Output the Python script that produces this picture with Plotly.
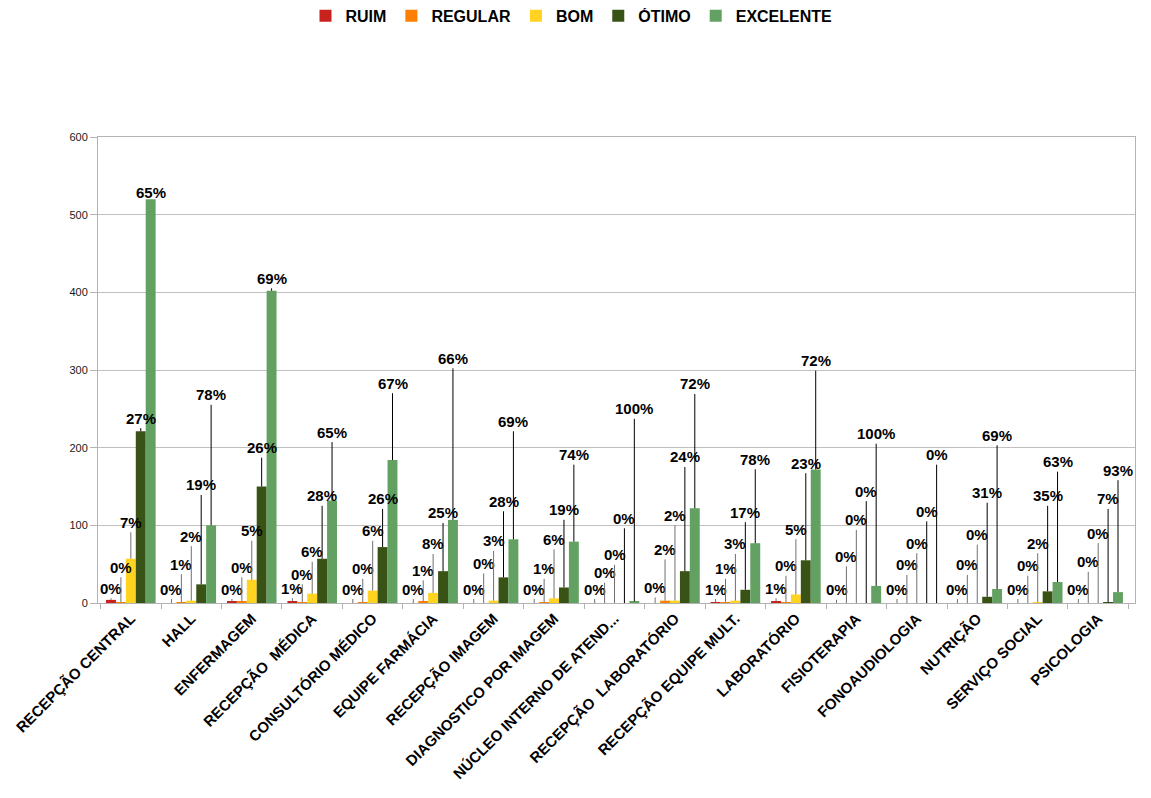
import plotly.graph_objects as go

categories = ["RECEPÇÃO CENTRAL", "HALL", "ENFERMAGEM", "RECEPÇÃO  MÉDICA", "CONSULTÓRIO MÉDICO",
              "EQUIPE FARMÁCIA", "RECEPÇÃO IMAGEM", "DIAGNOSTICO POR IMAGEM", "NÚCLEO INTERNO DE ATEND...",
              "RECEPÇÃO  LABORATÓRIO", "RECEPÇÃO EQUIPE MULT.", "LABORATÓRIO", "FISIOTERAPIA",
              "FONOAUDIOLOGIA", "NUTRIÇÃO", "SERVIÇO SOCIAL", "PSICOLOGIA"]

series_names = ["RUIM", "REGULAR", "BOM", "ÓTIMO", "EXCELENTE"]

ruim      = [4, 0, 2, 2, 0, 0, 0, 0, 0, 0, 1, 2, 0, 0, 0, 0, 0]
regular   = [1, 1, 2, 1, 1, 2, 0, 1, 0, 3, 1, 1, 0, 0, 0, 0, 0]
bom       = [57, 3, 30, 12, 16, 13, 3, 6, 0, 3, 3, 11, 0, 0, 0, 1, 0]
otimo     = [221, 24, 150, 57, 72, 41, 33, 20, 0, 41, 17, 55, 0, 0, 8, 15, 1]
excelente = [520, 100, 402, 132, 184, 107, 82, 79, 2, 122, 77, 172, 22, 0, 18, 27, 14]

ruim_pct      = ["0%", "0%", "0%", "1%", "0%", "0%", "0%", "0%", "0%", "0%", "1%", "1%", "0%", "0%", "0%", "0%", "0%"]
regular_pct   = ["0%", "1%", "0%", "0%", "0%", "1%", "0%", "1%", "0%", "2%", "1%", "0%", "0%", "0%", "0%", "0%", "0%"]
bom_pct       = ["7%", "2%", "5%", "6%", "6%", "8%", "3%", "6%", "0%", "2%", "3%", "5%", "0%", "0%", "0%", "2%", "0%"]
otimo_pct     = ["27%", "19%", "26%", "28%", "26%", "25%", "28%", "19%", "0%", "24%", "17%", "23%", "0%", "0%", "31%", "35%", "7%"]
excelente_pct = ["65%", "78%", "69%", "65%", "67%", "66%", "69%", "74%", "100%", "72%", "78%", "72%", "100%", "0%", "69%", "63%", "93%"]

# label placement heights (y-axis units) for the callout labels
ruim_lab_y      = [19, 18, 18, 19, 18, 18, 18, 18, 18, 20, 18, 19, 17, 18, 18, 18, 18]
regular_lab_y   = [46, 50, 46, 37, 44, 42, 51, 44, 39, 69, 44, 48, 60, 49, 49, 48, 53]
bom_lab_y       = [104, 86, 93, 66, 93, 76, 80, 82, 62, 113, 76, 95, 107, 77, 88, 77, 90]
otimo_lab_y     = [238, 152, 200, 138, 134, 116, 131, 120, 109, 188, 117, 180, 144, 118, 142, 138, 134]
excelente_lab_y = [529, 268, 418, 220, 283, 315, 234, 191, 250, 282, 185, 312, 218, 191, 216, 182, 171]

values = [ruim, regular, bom, otimo, excelente]
pcts = [ruim_pct, regular_pct, bom_pct, otimo_pct, excelente_pct]
lab_y = [ruim_lab_y, regular_lab_y, bom_lab_y, otimo_lab_y, excelente_lab_y]

colors = ["#c9211e", "#ff8000", "#ffd320", "#385315", "#62a162"]
line_colors = ["#707070", "#707070", "#707070", "#000000", "#000000"]

FONT = "Liberation Sans, Arial, sans-serif"
bargap = 0.18
w = (1 - bargap) / len(series_names)

fig = go.Figure()
for k, name in enumerate(series_names):
    fig.add_trace(go.Bar(name=name, x=categories, y=values[k], marker_color=colors[k],
                         marker_line_width=0))

annotations = []
for k in range(len(series_names)):
    for i in range(len(categories)):
        xb = i + (k - 2) * w
        annotations.append(dict(
            x=xb, y=values[k][i], xref="x", yref="y",
            ax=xb, ay=lab_y[k][i], axref="x", ayref="y",
            text=pcts[k][i], showarrow=True, arrowhead=0, arrowwidth=1,
            arrowcolor=line_colors[k], standoff=0, startstandoff=0,
            font=dict(family=FONT, size=15, color="#000000", weight="bold"),
        ))

# the page body adds an 8px offset, so the figure is sized to fit inside the window
fig.update_layout(
    width=1143, height=790,
    margin=dict(l=90, r=16, t=129, b=195),
    paper_bgcolor="white", plot_bgcolor="white",
    barmode="group", bargap=bargap, bargroupgap=0,
    annotations=annotations,
    legend=dict(orientation="h", xref="container", yref="container", x=0.493, y=0.99,
                xanchor="center", yanchor="middle", itemwidth=30,
                font=dict(family=FONT, size=16, color="#000000", weight="bold")),
    xaxis=dict(type="category", tickangle=-45, tickson="boundaries", ticks="outside",
               ticklen=5, tickcolor="#b3b3b3", showline=True, linecolor="#b3b3b3",
               mirror=True, showgrid=False, automargin=False,
               tickfont=dict(family=FONT, size=15, color="#000000", weight="bold")),
    yaxis=dict(range=[0, 600], dtick=100, ticks="outside", ticklen=7, tickcolor="#b3b3b3",
               showline=True, linecolor="#b3b3b3", mirror=True, gridcolor="#c0c0c0",
               zeroline=False, automargin=False,
               tickfont=dict(family=FONT, size=11, color="#1a1a1a")),
)

fig.write_html("out.html")
